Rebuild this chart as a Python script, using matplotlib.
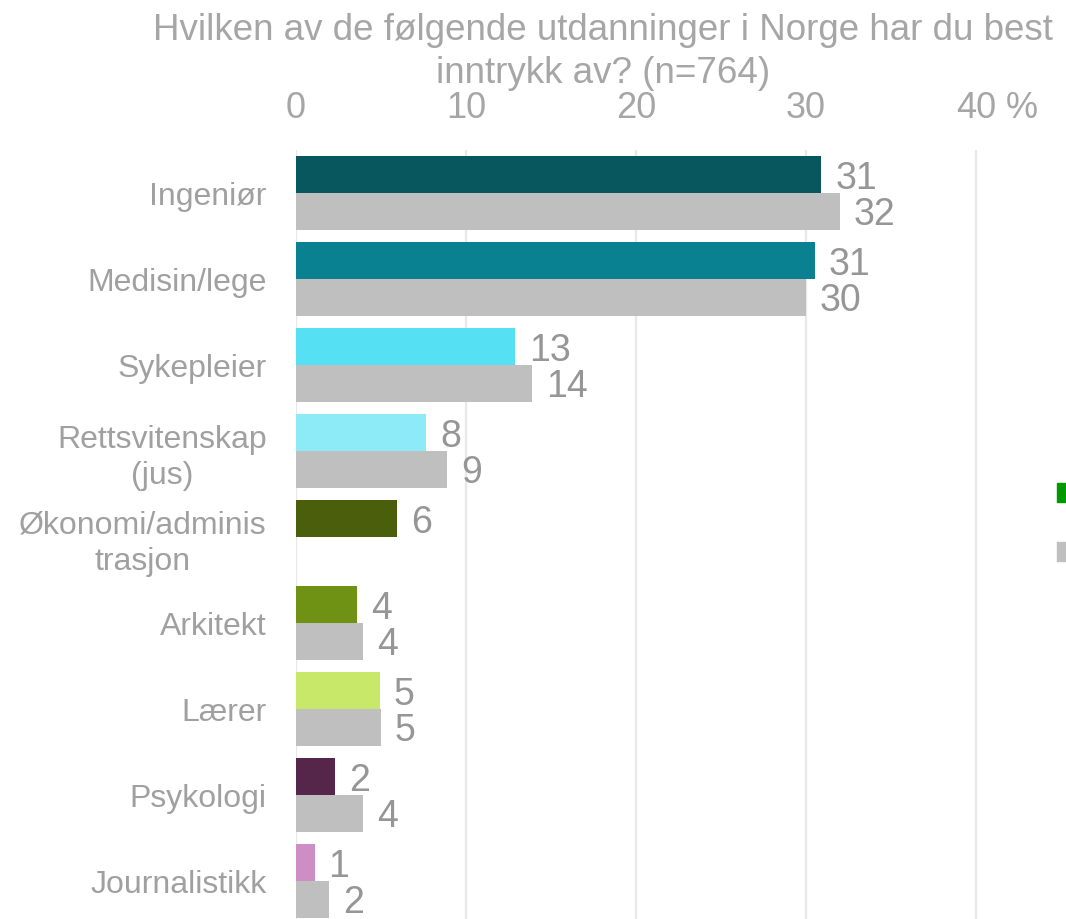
import matplotlib
matplotlib.use("Agg")
import matplotlib.pyplot as plt
import numpy as np
from matplotlib.patches import Patch

plt.rcParams['font.family'] = ['Liberation Sans', 'DejaVu Sans']

categories = ["Ingeniør", "Medisin/lege", "Sykepleier", "Rettsvitenskap\n(jus)",
              "Økonomi/adminis\ntrasjon", "Arkitekt", "Lærer", "Psykologi", "Journalistikk"]
series_now = [30.9, 30.5, 12.9, 7.65, 5.95, 3.6, 4.95, 2.3, 1.1]
series_prev = [32.0, 30.0, 13.9, 8.9, np.nan, 3.95, 5.0, 3.95, 1.95]
labels_now = ["31", "31", "13", "8", "6", "4", "5", "2", "1"]
labels_prev = ["32", "30", "14", "9", "", "4", "5", "4", "2"]
bar_colors = ["#08575F", "#0A8190", "#55E0F3", "#8DEAF7", "#4A5E0C",
              "#6F9215", "#C8E86A", "#55254A", "#CC8EC4"]
prev_color = "#BFBFBF"
xticks = [0, 10, 20, 30, 40]
legend_labels = ["2024", "2023"]
title = "Hvilken av de følgende utdanninger i Norge har du best\ninntrykk av? (n=764)"

W, H = 1066, 919
fig = plt.figure(figsize=(W / 100, H / 100), dpi=100)
ax = fig.add_axes([296 / W, 1 - 924 / H, (1010 - 296) / W, (924 - 150) / H])

y = np.arange(len(categories))
h = 0.43
b1 = ax.barh(y - h / 2, series_now, height=h, color=bar_colors, zorder=2)
b2 = ax.barh(y + h / 2, series_prev, height=h, color=prev_color, zorder=2)

val_color = "#969696"
for rect, lab in zip(b1, labels_now):
    ax.annotate(lab, (rect.get_width(), rect.get_y() + rect.get_height() / 2),
                xytext=(10, 0), textcoords="offset points", va="center_baseline",
                ha="left", fontsize=27, color=val_color)
for rect, lab in zip(b2, labels_prev):
    if lab:
        ax.annotate(lab, (rect.get_width(), rect.get_y() + rect.get_height() / 2),
                    xytext=(10, 0), textcoords="offset points", va="center_baseline",
                    ha="left", fontsize=27, color=val_color)

ax.set_xlim(0, 42)
ax.set_ylim(len(categories) - 0.5, -0.5)
ax.set_xticks(xticks)
ax.set_xticklabels([str(t) for t in xticks])
ax.xaxis.tick_top()
ax.tick_params(axis="x", length=0, pad=17, labelsize=26, labelcolor="#A6A6A6")
ax.tick_params(axis="y", length=0, pad=21, labelsize=23, labelcolor="#A0A0A0")
ax.set_yticks(y)
ax.set_yticklabels(categories)
for t in ax.get_yticklabels():
    t.set_multialignment("center")
    t.set_linespacing(1.3)
ax.grid(axis="x", color="#E8E8E8", linewidth=1.6, zorder=0)
for s in ax.spines.values():
    s.set_visible(False)

# percent sign after the last tick label
ax.annotate("%", (xticks[-1], 1), xycoords=("data", "axes fraction"),
            xytext=(21.5, 17), textcoords="offset points", ha="left", va="bottom",
            fontsize=26, color="#A6A6A6", annotation_clip=False)

fig.text(603 / W, 1 - 13 / H, title, ha="center", va="top", fontsize=26.5,
         color="#A6A6A6", linespacing=1.28)

handles = [Patch(color="#009900"), Patch(color=prev_color)]
fig.legend(handles, legend_labels, loc="upper left",
           bbox_to_anchor=(1057 / W, 1 - 482 / H), frameon=False, fontsize=18,
           handlelength=0.8, handleheight=0.8, labelspacing=1.4, borderpad=0,
           borderaxespad=0, handletextpad=0.5, labelcolor="#A0A0A0")

fig.savefig("out.png", dpi=100)
